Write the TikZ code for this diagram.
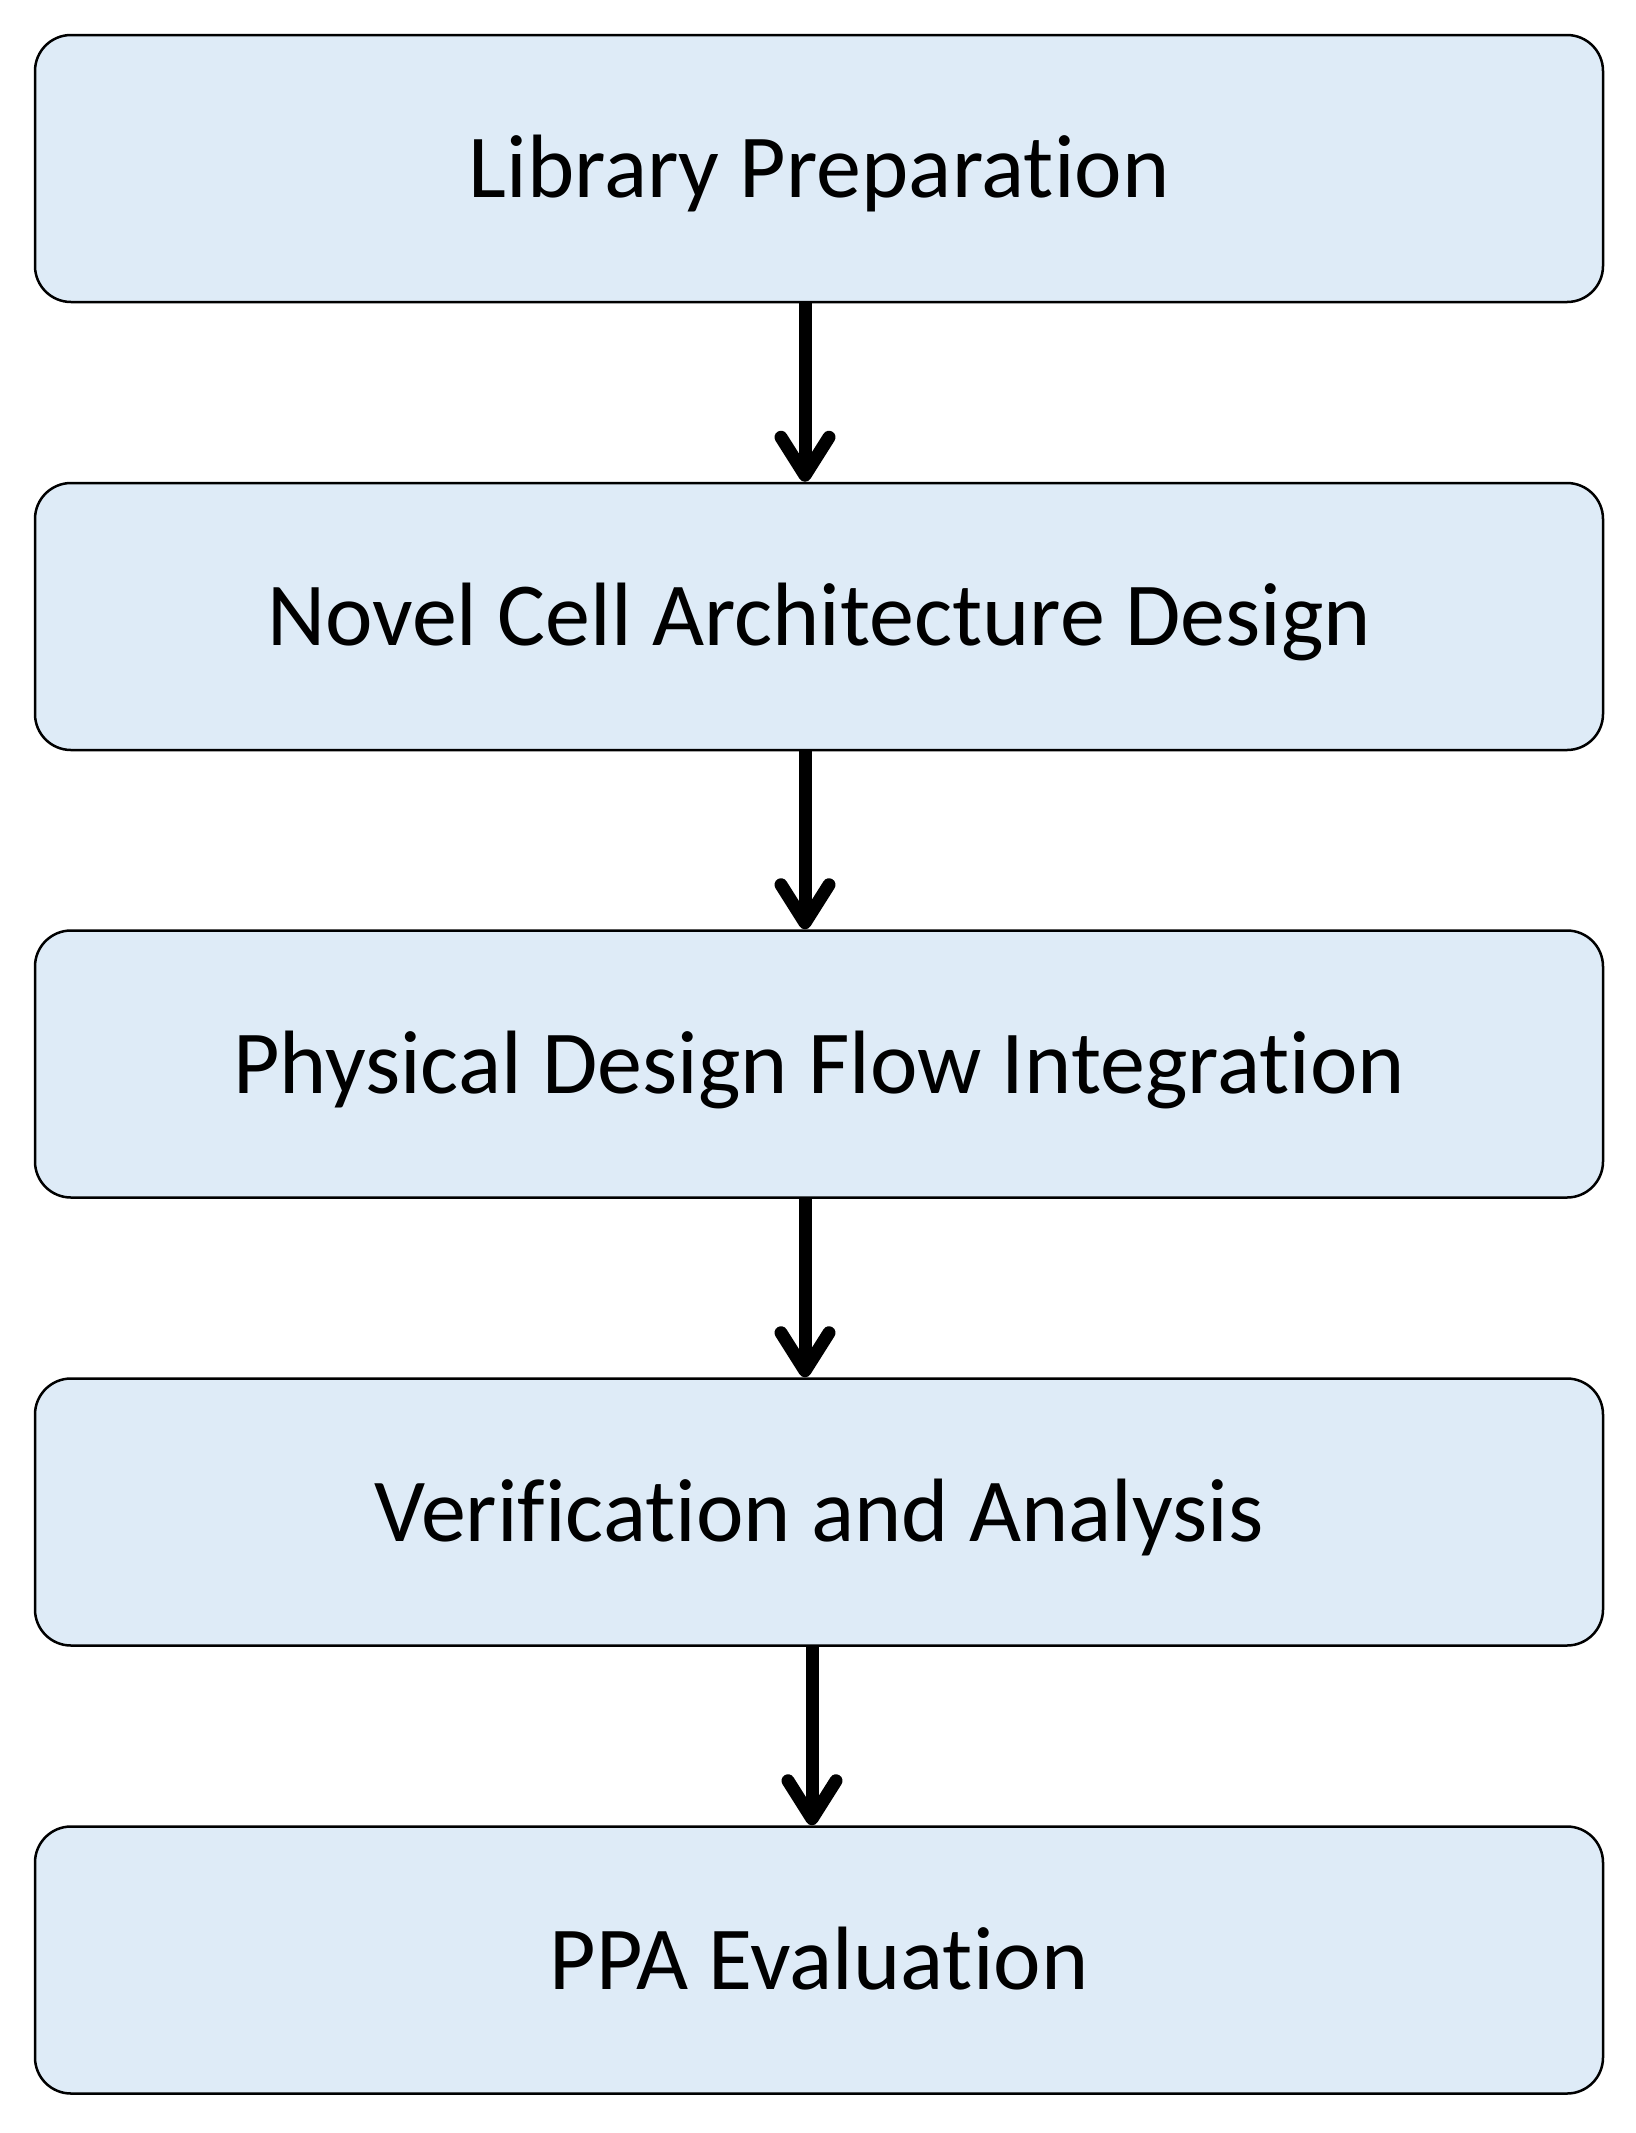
\documentclass[tikz,border=0pt]{standalone}
\usepackage{fontspec}
\setmainfont{Carlito}[Ligatures={NoCommon}]
\usetikzlibrary{arrows.meta}
\definecolor{boxfill}{HTML}{DEEBF7}
\tikzset{
  stagebox/.style={draw=black, line width=1.25pt, fill=boxfill, rounded corners=18pt,
    minimum width=784pt, minimum height=133.5pt, inner sep=0pt,
    font=\fontsize{45pt}{53pt}\selectfont, text height=29pt, text depth=0pt},
  flowarrow/.style={line width=6.5pt, -{Straight Barb[length=19pt,width=24pt,round]}}
}
\begin{document}
\begin{tikzpicture}[x=0.5pt,y=-0.5pt]
\useasboundingbox (0,0) rectangle (1635,2133);
\node[stagebox] (lib) at (819,168.5) {Library Preparation};
\node[stagebox] (arch) at (819,616.5) {Novel Cell Architecture Design};
\node[stagebox] (pd) at (819,1064) {Physical Design Flow Integration};
\node[stagebox] (ver) at (819,1512) {Verification and Analysis};
\node[stagebox] (ppa) at (819,1960) {PPA Evaluation};
\draw[flowarrow] ([xshift=-7pt]lib.south) -- ([xshift=-7pt]arch.north);
\draw[flowarrow] ([xshift=-7pt]arch.south) -- ([xshift=-7pt]pd.north);
\draw[flowarrow] ([xshift=-7pt]pd.south) -- ([xshift=-7pt]ver.north);
\draw[flowarrow] ([xshift=-3.5pt]ver.south) -- ([xshift=-3.5pt]ppa.north);
\end{tikzpicture}
\end{document}
